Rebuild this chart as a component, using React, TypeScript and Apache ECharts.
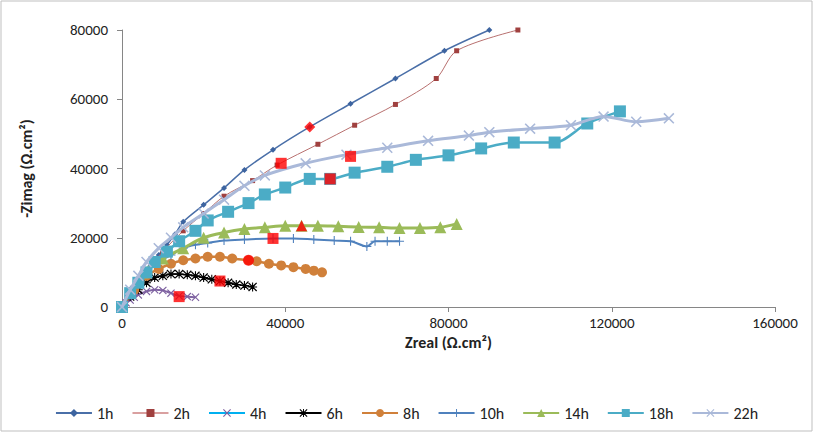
import React, { useEffect, useRef } from 'react';
import * as echarts from 'echarts';

const names = ['1h', '2h', '4h', '6h', '8h', '10h', '14h', '18h', '22h'];
const colors = ['#4a6fa8', '#b8706f', '#8064a2', '#000000', '#d0803a', '#4f81bd', '#9bbb59', '#4bacc6', '#aab9d9'];
const legendColors = ['#4a6fa8', '#d9a0a0', '#00b0f0', '#000000', '#d0803a', '#4f81bd', '#9bbb59', '#4bacc6', '#aab9d9'];
const markerColors = ['#3d64a0', '#a0403f', '#7d60a0', '#000000', '#d0803a', '#4f81bd', '#9bbb59', '#4bacc6', '#aab9d9'];

const X = 'path://M1,0L5,4L9,0L10,1L6,5L10,9L9,10L5,6L1,10L0,9L4,5L0,1Z';
const PLUS = 'path://M4.4,0H5.6V4.4H10V5.6H5.6V10H4.4V5.6H0V4.4H4.4Z';
const STAR = 'path://M4.4,0H5.6V4.4H10V5.6H5.6V10H4.4V5.6H0V4.4H4.4ZM1,0L5,4L9,0L10,1L6,5L10,9L9,10L5,6L1,10L0,9L4,5L0,1Z';
const symbols = ['diamond', 'rect', X, STAR, 'circle', PLUS, 'triangle', 'rect', X];
const symbolSizes = [6, 5, 8, 9, 10, 9, 12, 12, 11];
const lineWidths = [1.5, 1, 2, 1.5, 2.5, 2, 3, 2.5, 3];

const curves: number[][][] = [
  [[0, 0], [1, 2], [2, 4], [3, 6], [5, 9], [7, 12], [9, 15], [11, 18], [13, 21], [15, 24.6], [20, 29.5], [25, 34.4], [30, 39.6], [37, 45.4], [46, 52], [56, 58.7], [67, 66], [79, 74], [90, 80]],
  [[0, 0], [2, 4], [5, 9], [10, 16], [15, 22], [20, 27], [25, 32], [32, 36.5], [38, 41], [48, 47], [57, 52.5], [67, 58.5], [77, 66], [82, 74], [97, 80]],
  [[0, 0], [1, 1.2], [2, 2], [3, 2.8], [4, 3.5], [6, 4.5], [8, 5], [10, 4.8], [12, 4], [14, 3.2], [16, 3], [18, 2.8]],
  [[0, 0], [2, 3], [4, 5], [6, 7], [8, 8.5], [10, 9], [12, 9.5], [14, 9.5], [16, 9.3], [18, 9], [20, 8.5], [22, 8], [24, 7.5], [26, 7], [28, 6.5], [30, 6.2], [32, 5.8]],
  [[0, 0], [3, 5], [6, 9], [9, 11], [12, 12.5], [15, 13.5], [18, 14], [21, 14.5], [24, 14.5], [27, 14], [31, 13.5], [33, 13.2], [36, 12.5], [39, 12], [42, 11.5], [45, 11], [47, 10.5], [49, 10]],
  [[0, 0], [3, 6], [6, 10], [9, 13], [12, 15], [15, 17], [18, 18], [21, 18.5], [25, 19.2], [30, 19.5], [37, 19.8], [42, 19.8], [47, 19.5], [52, 19.2], [56, 19], [60, 17.5], [62, 19], [65, 19], [68, 19]],
  [[0, 0], [5, 10], [10, 14], [15, 17], [20, 20], [25, 21.5], [30, 22.5], [35, 23], [40, 23.5], [44, 23.5], [48, 23.5], [53, 23.3], [58, 23.1], [63, 23], [68, 22.8], [73, 22.8], [78, 23], [82, 24]],
  [[0, 0], [2, 4], [4, 7], [6, 10], [8, 13], [11, 16], [14, 19], [18, 22], [21, 25], [26, 27.5], [31, 30], [35, 32.5], [40, 34.5], [46, 37], [51, 37], [57, 38.8], [65, 40.5], [72, 42.5], [80, 43.8], [88, 45.8], [96, 47.5], [106, 47.5], [114, 53], [122, 56.5]],
  [[0, 0], [2, 5], [4, 9], [6, 13], [9, 17], [12, 20], [15, 23], [20, 27], [25, 31], [30, 35], [35, 38], [45, 41.5], [55, 44], [65, 46], [75, 48], [85, 49.5], [90, 50.5], [100, 51.5], [110, 52.5], [118, 55], [126, 53.5], [134, 54.5]],
];

// red highlighted points (x, y in thousands)
const highlights: [number, number, string][] = [
  [46, 52, 'diamond'], [56, 43.5, 'rect'], [14, 3, 'rect'], [24, 7.5, 'rect'], [31, 13.5, 'circle'],
  [37, 19.8, 'rect'], [44, 23.5, 'triangle'], [51, 37, 'rect'], [39, 41.5, 'rect'],
];

export default function App() {
  const ref = useRef<HTMLDivElement>(null);

  useEffect(() => {
    if (!ref.current) return;
    const chart = echarts.init(ref.current, null, { renderer: 'svg' });
    const font = 'Calibri, Carlito, "Liberation Sans", Arial, sans-serif';

    const series: any[] = curves.map((c, i) => ({
      name: names[i],
      type: 'line',
      data: c.map(p => [p[0] * 1000, p[1] * 1000]),
      symbol: symbols[i],
      symbolSize: symbolSizes[i],
      showAllSymbol: true,
      smooth: 0.3,
      lineStyle: { color: colors[i], width: lineWidths[i] },
      itemStyle: { color: markerColors[i], borderColor: markerColors[i], borderWidth: 0 },
      z: 2 + i,
    }));
    series.push({
      type: 'scatter',
      data: highlights.map(h => ({ value: [h[0] * 1000, h[1] * 1000], symbol: h[2] })),
      symbolSize: 11,
      itemStyle: { color: '#ff0000' },
      z: 20,
    });

    chart.setOption({
      animation: false,
      textStyle: { fontFamily: font },
      graphic: [{ type: 'rect', shape: { x: 1, y: 1, width: 811, height: 430 }, style: { fill: 'none', stroke: '#bfbfbf', lineWidth: 1 } }],
      grid: { left: 122, right: 38, top: 30, bottom: 125 },
      legend: {
        bottom: 6,
        left: 'center',
        itemGap: 18,
        itemWidth: 36,
        itemHeight: 10,
        data: names.map((n, i) => ({ name: n, itemStyle: { color: markerColors[i] }, lineStyle: { color: legendColors[i] } })),
        textStyle: { fontSize: 16, color: '#222', fontFamily: font },
      },
      xAxis: {
        type: 'value', min: 0, max: 160000, interval: 40000,
        name: 'Zreal (Ω.cm²)', nameLocation: 'middle', nameGap: 26,
        nameTextStyle: { fontWeight: 'bold', fontSize: 16, color: '#222', fontFamily: font },
        axisLine: { show: true, lineStyle: { color: '#868686' } },
        axisTick: { show: true, lineStyle: { color: '#868686' } },
        axisLabel: { fontSize: 15, color: '#222', formatter: (v: number) => String(v) },
        splitLine: { show: false },
      },
      yAxis: {
        type: 'value', min: 0, max: 80000, interval: 20000,
        name: '-Zimag (Ω.cm²)', nameLocation: 'middle', nameGap: 88, nameRotate: 90,
        nameTextStyle: { fontWeight: 'bold', fontSize: 16, color: '#222', fontFamily: font },
        axisLine: { show: true, lineStyle: { color: '#868686' } },
        axisTick: { show: true, lineStyle: { color: '#868686' } },
        axisLabel: { fontSize: 15, color: '#222', margin: 14, formatter: (v: number) => String(v) },
        splitLine: { show: false },
      },
      series,
    });
    return () => chart.dispose();
  }, []);

  return <div ref={ref} style={{ width: 813, height: 432, position: 'absolute', left: 0, top: 0, background: '#fff' }} />;
}
